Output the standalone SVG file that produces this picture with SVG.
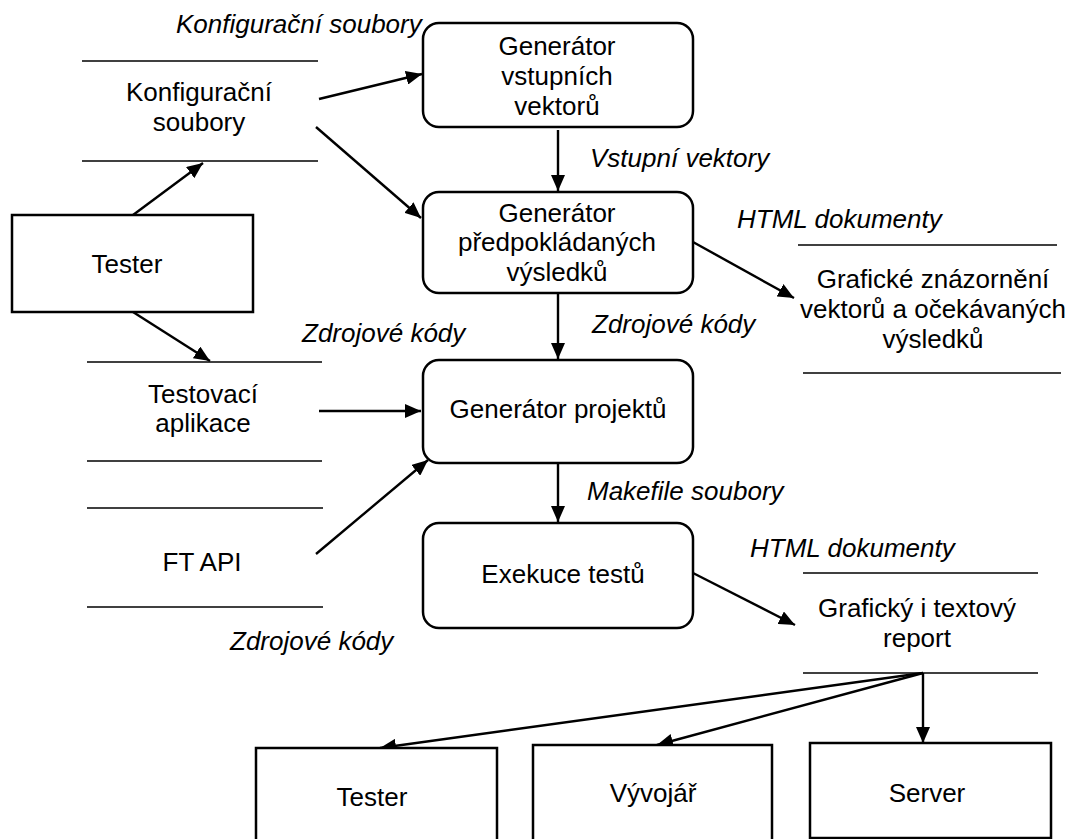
<svg xmlns="http://www.w3.org/2000/svg" width="1078" height="839" viewBox="0 0 1078 839">
  <style>
    .proc { fill: #fff; stroke: #000; stroke-width: 2.5; }
    .ext { fill: #fff; stroke: #000; stroke-width: 2.5; }
    .store { stroke: #000; stroke-width: 1.6; }
    .flow { stroke: #000; stroke-width: 2.4; fill: none; marker-end: url(#arrow); }
    text { font-family: "Liberation Sans", Arial, sans-serif; font-size: 26px; fill: #000; }
    .c { text-anchor: middle; }
    .lbl { font-style: italic; }
  </style>
  <defs>
    <marker id="arrow" markerUnits="userSpaceOnUse" markerWidth="16" markerHeight="14" viewBox="0 0 16 14" refX="16" refY="7" orient="auto">
      <path d="M0,0 L16,7 L0,14 z" fill="#000"/>
    </marker>
  </defs>
  <rect width="1078" height="839" fill="#fff"/>

  <!-- connectors -->
  <g id="connectors">
    <line class="flow" x1="319" y1="99" x2="422" y2="74"/>
    <line class="flow" x1="316" y1="127" x2="421" y2="218"/>
    <line class="flow" x1="133" y1="215" x2="203" y2="163"/>
    <line class="flow" x1="133" y1="312" x2="210" y2="361"/>
    <line class="flow" x1="558" y1="130" x2="558" y2="191"/>
    <line class="flow" x1="693" y1="242" x2="794" y2="298"/>
    <line class="flow" x1="558" y1="294" x2="558" y2="359"/>
    <line class="flow" x1="319" y1="411" x2="421" y2="411"/>
    <line class="flow" x1="316" y1="554" x2="428" y2="460"/>
    <line class="flow" x1="558" y1="464" x2="558" y2="522"/>
    <line class="flow" x1="693" y1="573" x2="795" y2="625"/>
    <line class="flow" x1="923" y1="673" x2="380" y2="748"/>
    <line class="flow" x1="923" y1="673" x2="657" y2="745"/>
    <line class="flow" x1="923" y1="673" x2="923" y2="743"/>
  </g>

  <!-- flow labels -->
  <g id="labels">
    <text class="lbl" x="176" y="33">Konfigurační soubory</text>
    <text class="lbl" x="590" y="167">Vstupní vektory</text>
    <text class="lbl" x="737" y="228">HTML dokumenty</text>
    <text class="lbl" x="592" y="333">Zdrojové kódy</text>
    <text class="lbl" x="302" y="342">Zdrojové kódy</text>
    <text class="lbl" x="587" y="500">Makefile soubory</text>
    <text class="lbl" x="750" y="557">HTML dokumenty</text>
    <text class="lbl" x="230" y="650">Zdrojové kódy</text>
  </g>

  <!-- data stores -->
  <g id="store-konfigurace">
    <line class="store" x1="82" y1="61" x2="318" y2="61"/>
    <line class="store" x1="82" y1="161" x2="318" y2="161"/>
    <text class="c" x="199" y="101">Konfigurační</text>
    <text class="c" x="199" y="131">soubory</text>
  </g>
  <g id="store-testovaci-aplikace">
    <line class="store" x1="87" y1="362" x2="322" y2="362"/>
    <line class="store" x1="87" y1="461" x2="322" y2="461"/>
    <text class="c" x="203" y="403">Testovací</text>
    <text class="c" x="203" y="432">aplikace</text>
  </g>
  <g id="store-ft-api">
    <line class="store" x1="87" y1="508" x2="323" y2="508"/>
    <line class="store" x1="87" y1="607" x2="323" y2="607"/>
    <text class="c" x="202" y="571">FT API</text>
  </g>
  <g id="store-graficke-znazorneni">
    <line class="store" x1="798" y1="245" x2="1057" y2="245"/>
    <line class="store" x1="803" y1="373" x2="1061" y2="373"/>
    <text class="c" x="933" y="288">Grafické znázornění</text>
    <text class="c" x="933" y="318">vektorů a očekávaných</text>
    <text class="c" x="933" y="348">výsledků</text>
  </g>
  <g id="store-report">
    <line class="store" x1="803" y1="573" x2="1038" y2="573"/>
    <line class="store" x1="803" y1="673" x2="1038" y2="673"/>
    <text class="c" x="917" y="617">Grafický i textový</text>
    <text class="c" x="917" y="647">report</text>
  </g>

  <!-- processes -->
  <g id="proc-generator-vektoru">
    <rect class="proc" x="423" y="23" width="270" height="104" rx="16"/>
    <text class="c" x="557" y="55">Generátor</text>
    <text class="c" x="557" y="85">vstupních</text>
    <text class="c" x="557" y="115">vektorů</text>
  </g>
  <g id="proc-generator-vysledku">
    <rect class="proc" x="423" y="192" width="270" height="101" rx="16"/>
    <text class="c" x="557" y="222">Generátor</text>
    <text class="c" x="557" y="251">předpokládaných</text>
    <text class="c" x="557" y="281">výsledků</text>
  </g>
  <g id="proc-generator-projektu">
    <rect class="proc" x="423" y="360" width="270" height="103" rx="16"/>
    <text class="c" x="558" y="418">Generátor projektů</text>
  </g>
  <g id="proc-exekuce">
    <rect class="proc" x="423" y="523" width="270" height="105" rx="16"/>
    <text class="c" x="563" y="583">Exekuce testů</text>
  </g>

  <!-- external entities -->
  <g id="ext-tester">
    <rect class="ext" x="12" y="215" width="241" height="97"/>
    <text class="c" x="127" y="273">Tester</text>
  </g>
  <g id="ext-tester-2">
    <rect class="ext" x="256" y="748" width="241" height="110"/>
    <text class="c" x="372" y="806">Tester</text>
  </g>
  <g id="ext-vyvojar">
    <rect class="ext" x="533" y="745" width="239" height="110"/>
    <text class="c" x="653" y="802">Vývojář</text>
  </g>
  <g id="ext-server">
    <rect class="ext" x="810" y="743" width="241" height="95"/>
    <text class="c" x="927" y="802">Server</text>
  </g>
</svg>
